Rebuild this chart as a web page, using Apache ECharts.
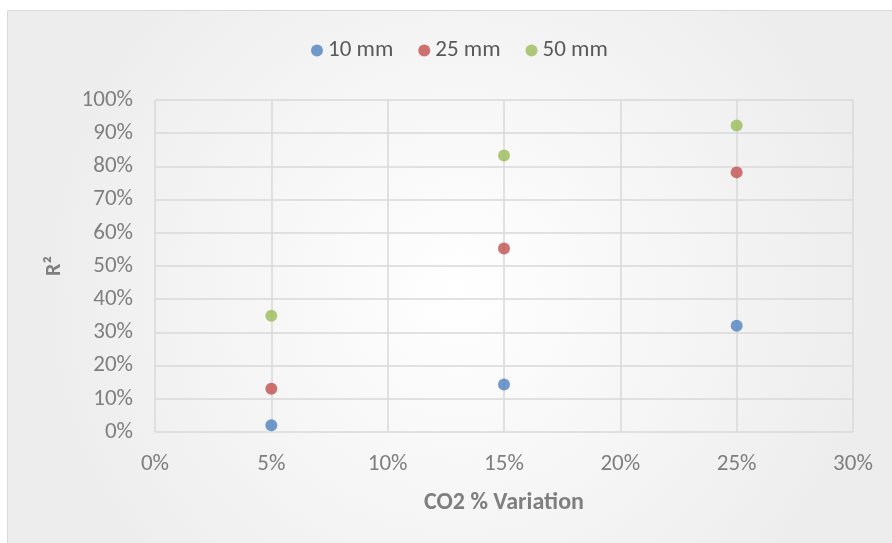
<!DOCTYPE html>
<html>
<head>
<meta charset="utf-8">
<script src="https://cdn.jsdelivr.net/npm/echarts@6/dist/echarts.min.js"></script>
<style>
  html, body { margin: 0; padding: 0; background: #ffffff; }
  #chart { width: 892px; height: 543px; }
</style>
</head>
<body>
<div id="chart"></div>
<script>
// CO2 variation levels (fraction) and R² for each sensor depth
const co2Variation = [0.05, 0.15, 0.25];
const seriesNames = ['10 mm', '25 mm', '50 mm'];
const r2_10mm = [0.02, 0.143, 0.32];
const r2_25mm = [0.13, 0.553, 0.782];
const r2_50mm = [0.35, 0.833, 0.923];
const seriesColors = ['#4F81BD', '#C0504D', '#9BBB59'];

const allValues = [r2_10mm, r2_25mm, r2_50mm];
const FONT = "Carlito, 'Liberation Sans Narrow', Lato, sans-serif";
const pct = v => Math.round(v * 100) + '%';

const chart = echarts.init(document.getElementById('chart'));
chart.setOption({
  animation: false,
  graphic: [{
    type: 'rect',
    z: -10,
    silent: true,
    shape: { x: 7.5, y: 10.5, width: 900, height: 560 },
    style: {
      fill: {
        type: 'radial', x: 0.5, y: 0.5, r: 0.75,
        colorStops: [{ offset: 0, color: '#ffffff' }, { offset: 1, color: '#ededed' }]
      },
      stroke: '#d9d9d9',
      lineWidth: 1
    }
  }],
  legend: {
    data: seriesNames,
    left: 306,
    top: 34,
    icon: 'circle',
    itemWidth: 12,
    itemHeight: 12,
    itemGap: 25,
    textStyle: { fontFamily: FONT, fontSize: 23, color: '#595959' }
  },
  grid: { left: 155, right: 39, top: 100, bottom: 111, containLabel: false },
  xAxis: {
    type: 'value',
    min: 0, max: 0.3, interval: 0.05,
    name: 'CO2 % Variation',
    nameLocation: 'middle',
    nameGap: 59,
    nameTextStyle: { fontFamily: FONT, fontSize: 24, fontWeight: 'bold', color: '#7f7f7f' },
    axisLine: { show: false },
    axisTick: { show: false },
    axisLabel: { fontFamily: FONT, fontSize: 23, color: '#7f7f7f', margin: 21, formatter: pct },
    splitLine: { show: true, lineStyle: { color: '#d9d9d9', width: 1.5 } }
  },
  yAxis: {
    type: 'value',
    min: 0, max: 1, interval: 0.1,
    name: 'R²',
    nameLocation: 'middle',
    nameGap: 90,
    nameTextStyle: { fontFamily: FONT, fontSize: 22, fontWeight: 'bold', color: '#7f7f7f' },
    axisLine: { show: false },
    axisTick: { show: false },
    axisLabel: { fontFamily: FONT, fontSize: 23, color: '#7f7f7f', margin: 22, formatter: pct },
    splitLine: { show: true, lineStyle: { color: '#d9d9d9', width: 1.5 } }
  },
  series: seriesNames.map((name, i) => ({
    name,
    type: 'scatter',
    symbol: 'circle',
    symbolSize: 12,
    itemStyle: { color: seriesColors[i] },
    data: co2Variation.map((x, j) => [x, allValues[i][j]])
  }))
});
</script>
</body>
</html>
